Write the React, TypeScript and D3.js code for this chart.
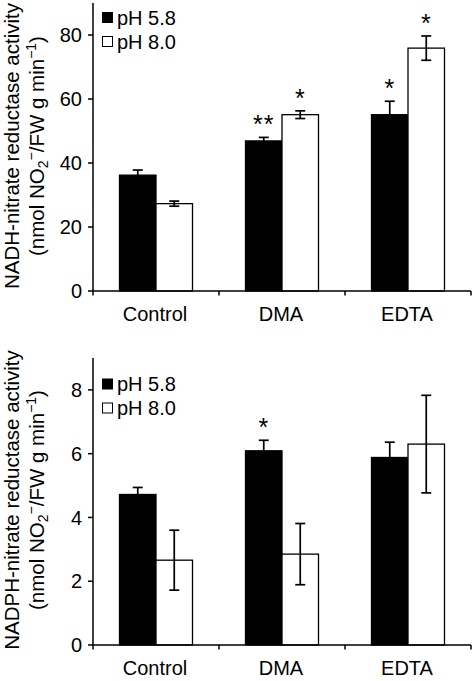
import React from "react";
import * as d3 from "d3";

const categories = ["Control", "DMA", "EDTA"];
const seriesNames = ["pH 5.8", "pH 8.0"];

const nadh58 = [36.2, 46.9, 55.1];
const nadh58Err = [1.6, 1.1, 4.2];
const nadh80 = [27.3, 55.1, 75.9];
const nadh80Err = [0.8, 1.2, 3.8];
const nadh58Sig = ["", "**", "*"];
const nadh80Sig = ["", "*", "*"];
const nadhTicks = [0, 20, 40, 60, 80];

const nadph58 = [4.72, 6.09, 5.88];
const nadph58Err = [0.22, 0.33, 0.48];
const nadph80 = [2.66, 2.85, 6.3];
const nadph80Err = [0.94, 0.96, 1.53];
const nadph58Sig = ["", "*", ""];
const nadph80Sig = ["", "", ""];
const nadphTicks = [0, 2, 4, 6, 8];

const FONT = "Arial, 'Liberation Sans', Helvetica, sans-serif";
const X0 = 93;
const X1 = 471;

type PanelProps = {
  yMax: number;
  yTop: number;
  yBottom: number;
  ticks: number[];
  v58: number[];
  e58: number[];
  v80: number[];
  e80: number[];
  s58: string[];
  s80: string[];
  titleMain: string;
  titleCenter: number;
  legendTop: number;
};

function Panel(p: PanelProps) {
  const x = d3.scaleBand<string>().domain(categories).range([X0, X1]).padding(0);
  const bw = x.bandwidth();
  const barW = 36.5;
  const sub = d3
    .scaleBand<string>()
    .domain(seriesNames)
    .range([bw / 2 - barW, bw / 2 + barW])
    .padding(0);
  const y = d3.scaleLinear().domain([0, p.yMax]).range([p.yBottom, p.yTop]);

  const rows = categories.map((c, i) => [
    { s: seriesNames[0], v: p.v58[i], e: p.e58[i], sig: p.s58[i], fill: "#000" },
    { s: seriesNames[1], v: p.v80[i], e: p.e80[i], sig: p.s80[i], fill: "#fff" },
  ]);

  const boundaries = [X0, ...categories.map((c) => (x(c) as number) + bw)];

  return (
    <g>
      {categories.map((c, i) =>
        rows[i].map((r) => {
          const bx = (x(c) as number) + (sub(r.s) as number);
          const cx = bx + sub.bandwidth() / 2;
          const yTopErr = y(r.v + r.e);
          const yBotErr = y(r.v - r.e);
          return (
            <g key={c + r.s}>
              <rect
                x={bx}
                y={y(r.v)}
                width={sub.bandwidth()}
                height={y(0) - y(r.v)}
                fill={r.fill}
                stroke="#000"
                strokeWidth={1.3}
              />
              <line x1={cx} x2={cx} y1={yTopErr} y2={yBotErr} stroke="#000" strokeWidth={1.7} />
              <line x1={cx - 5} x2={cx + 5} y1={yTopErr} y2={yTopErr} stroke="#000" strokeWidth={1.7} />
              <line x1={cx - 5} x2={cx + 5} y1={yBotErr} y2={yBotErr} stroke="#000" strokeWidth={1.7} />
              {r.sig && (
                <text
                  x={cx}
                  y={yTopErr - 4}
                  textAnchor="middle"
                  fontSize={25}
                  fontFamily={FONT}
                  letterSpacing={1}
                >
                  {r.sig}
                </text>
              )}
            </g>
          );
        })
      )}
      <line x1={X0} x2={X0} y1={p.yTop} y2={p.yBottom} stroke="#000" strokeWidth={1.5} />
      <line x1={X0} x2={X1} y1={p.yBottom} y2={p.yBottom} stroke="#000" strokeWidth={1.5} />
      {p.ticks.map((t) => (
        <g key={t}>
          <line x1={X0 - 5} x2={X0} y1={y(t)} y2={y(t)} stroke="#000" strokeWidth={1.5} />
          <text
            x={82}
            y={y(t)}
            dy="0.36em"
            textAnchor="end"
            fontSize={20}
            fontFamily={FONT}
          >
            {t}
          </text>
        </g>
      ))}
      {boundaries.map((b, i) => (
        <line key={i} x1={b} x2={b} y1={p.yBottom} y2={p.yBottom + 4.5} stroke="#000" strokeWidth={1.5} />
      ))}
      {categories.map((c) => (
        <text
          key={c}
          x={(x(c) as number) + bw / 2 - 1}
          y={p.yBottom + 30}
          textAnchor="middle"
          fontSize={20}
          fontFamily={FONT}
        >
          {c}
        </text>
      ))}
      {seriesNames.map((s, i) => (
        <g key={s}>
          <rect
            x={102.5}
            y={p.legendTop + i * 24}
            width={10}
            height={10}
            fill={i === 0 ? "#000" : "#fff"}
            stroke="#000"
            strokeWidth={1}
          />
          <text x={117} y={p.legendTop + i * 24 + 12} fontSize={20} fontFamily={FONT}>
            {s}
          </text>
        </g>
      ))}
      <g transform={`translate(0, ${p.titleCenter}) rotate(-90)`}>
        <text x={0} y={19} textAnchor="middle" fontSize={20.5} fontFamily={FONT}>
          {p.titleMain}
        </text>
        <text x={0} y={44} textAnchor="middle" fontSize={20.5} fontFamily={FONT}>
          (nmol NO
          <tspan fontSize={14} dy={4}>2</tspan>
          <tspan fontSize={14} dy={-12}>−</tspan>
          <tspan dy={8}>/FW g min</tspan>
          <tspan fontSize={14} dy={-8}>−1</tspan>
          <tspan dy={8}>)</tspan>
        </text>
      </g>
    </g>
  );
}

export default function App() {
  return (
    <svg
      width={475}
      height={681}
      viewBox="0 0 475 681"
      style={{ position: "absolute", left: 0, top: 0, background: "#fff" }}
    >
      <rect x={0} y={0} width={475} height={681} fill="#fff" />
      <Panel
        yMax={90}
        yTop={3}
        yBottom={291}
        ticks={nadhTicks}
        v58={nadh58}
        e58={nadh58Err}
        v80={nadh80}
        e80={nadh80Err}
        s58={nadh58Sig}
        s80={nadh80Sig}
        titleMain="NADH-nitrate reductase activity"
        titleCenter={146}
        legendTop={12.5}
      />
      <Panel
        yMax={9}
        yTop={358}
        yBottom={645}
        ticks={nadphTicks}
        v58={nadph58}
        e58={nadph58Err}
        v80={nadph80}
        e80={nadph80Err}
        s58={nadph58Sig}
        s80={nadph80Sig}
        titleMain="NADPH-nitrate reductase activity"
        titleCenter={500}
        legendTop={379}
      />
    </svg>
  );
}
